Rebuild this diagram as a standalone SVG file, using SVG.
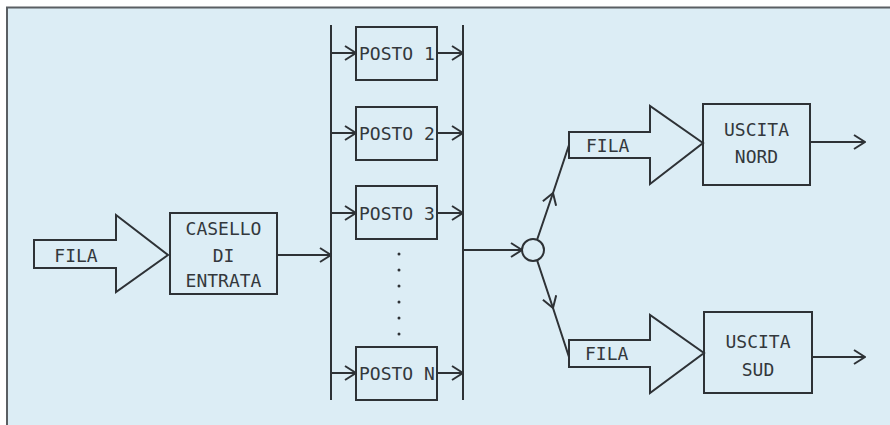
<svg xmlns="http://www.w3.org/2000/svg" width="890" height="425" viewBox="0 0 890 425">
<style>
.ln{stroke:#2e3236;stroke-width:2;fill:none}
.bx{stroke:#2e3236;stroke-width:2;fill:none}
.t{font-family:"DejaVu Sans Mono","Liberation Mono",monospace;font-size:18px;fill:#33383c}
.m{text-anchor:middle}
</style>
<defs>
<marker id="a" viewBox="-12 -8 13 16" refX="0" refY="0" markerWidth="13" markerHeight="16" orient="auto" markerUnits="userSpaceOnUse">
<path d="M-11,-7 L0,0 L-11,7" fill="none" stroke="#2e3236" stroke-width="2"/>
</marker>
</defs>
<rect x="0" y="0" width="890" height="425" fill="#ffffff"/>
<rect x="6" y="7" width="884" height="418" fill="#dcedf5"/>
<line x1="6" y1="7.5" x2="890" y2="7.5" stroke="#5a5f63" stroke-width="2"/>
<line x1="7" y1="7" x2="7" y2="425" stroke="#5a5f63" stroke-width="2"/>

<g id="fila-in">
<polygon class="bx" points="34,240 116,240 116,215 168,255 116,292 116,268 34,268"/>
<text class="t m" x="76" y="262">FILA</text>
</g>
<g id="casello">
<rect class="bx" x="170" y="213" width="107" height="81"/>
<text class="t m" x="223.5" y="235">CASELLO</text>
<text class="t m" x="223.5" y="262">DI</text>
<text class="t m" x="223.5" y="287">ENTRATA</text>
</g>
<g id="posto1">
<rect class="bx" x="356" y="27" width="81" height="53"/>
<text class="t" x="359" y="60">POSTO 1</text>
</g>
<g id="posto2">
<rect class="bx" x="356" y="107" width="81" height="53"/>
<text class="t" x="359" y="140">POSTO 2</text>
</g>
<g id="posto3">
<rect class="bx" x="356" y="186" width="81" height="53"/>
<text class="t" x="359" y="220">POSTO 3</text>
</g>
<g id="postoN">
<rect class="bx" x="356" y="347" width="81" height="53"/>
<text class="t" x="359" y="380">POSTO N</text>
</g>
<g id="dots" fill="#2e3236">
<circle cx="399" cy="254" r="1.5"/>
<circle cx="399" cy="270" r="1.5"/>
<circle cx="399" cy="286" r="1.5"/>
<circle cx="399" cy="302" r="1.5"/>
<circle cx="399" cy="318" r="1.5"/>
<circle cx="399" cy="334" r="1.5"/>
</g>
<g id="junction">
<circle class="bx" cx="533" cy="250" r="11"/>
</g>
<g id="fila-nord">
<polygon class="bx" points="569,132 650,132 650,106 703,143 650,184 650,158 569,158"/>
<text class="t" x="586" y="152">FILA</text>
</g>
<g id="fila-sud">
<polygon class="bx" points="569,340 650,340 650,315 704,353 650,393 650,367 569,367"/>
<text class="t" x="585" y="360">FILA</text>
</g>
<g id="uscita-nord">
<rect class="bx" x="703" y="104" width="107" height="81"/>
<text class="t m" x="756.5" y="136">USCITA</text>
<text class="t m" x="756.5" y="163">NORD</text>
</g>
<g id="uscita-sud">
<rect class="bx" x="704" y="312" width="108" height="81"/>
<text class="t m" x="758" y="348">USCITA</text>
<text class="t m" x="758" y="376">SUD</text>
</g>

<g id="connectors">
<line class="ln" x1="331" y1="25" x2="331" y2="400"/>
<line class="ln" x1="463" y1="25" x2="463" y2="400"/>
<line class="ln" x1="277" y1="255" x2="331" y2="255" marker-end="url(#a)"/>
<line class="ln" x1="331" y1="53" x2="356" y2="53" marker-end="url(#a)"/>
<line class="ln" x1="437" y1="53" x2="463" y2="53" marker-end="url(#a)"/>
<line class="ln" x1="331" y1="133" x2="356" y2="133" marker-end="url(#a)"/>
<line class="ln" x1="437" y1="133" x2="463" y2="133" marker-end="url(#a)"/>
<line class="ln" x1="331" y1="213" x2="356" y2="213" marker-end="url(#a)"/>
<line class="ln" x1="437" y1="213" x2="463" y2="213" marker-end="url(#a)"/>
<line class="ln" x1="331" y1="373" x2="356" y2="373" marker-end="url(#a)"/>
<line class="ln" x1="437" y1="373" x2="463" y2="373" marker-end="url(#a)"/>
<line class="ln" x1="463" y1="250" x2="522" y2="250" marker-end="url(#a)"/>
<path class="ln" d="M537,240 L553,193 L569,145" marker-mid="url(#a)"/>
<path class="ln" d="M537,260 L553,308 L569,357" marker-mid="url(#a)"/>
<line class="ln" x1="810" y1="142" x2="865" y2="142" marker-end="url(#a)"/>
<line class="ln" x1="812" y1="357" x2="865" y2="357" marker-end="url(#a)"/>
</g>
</svg>
